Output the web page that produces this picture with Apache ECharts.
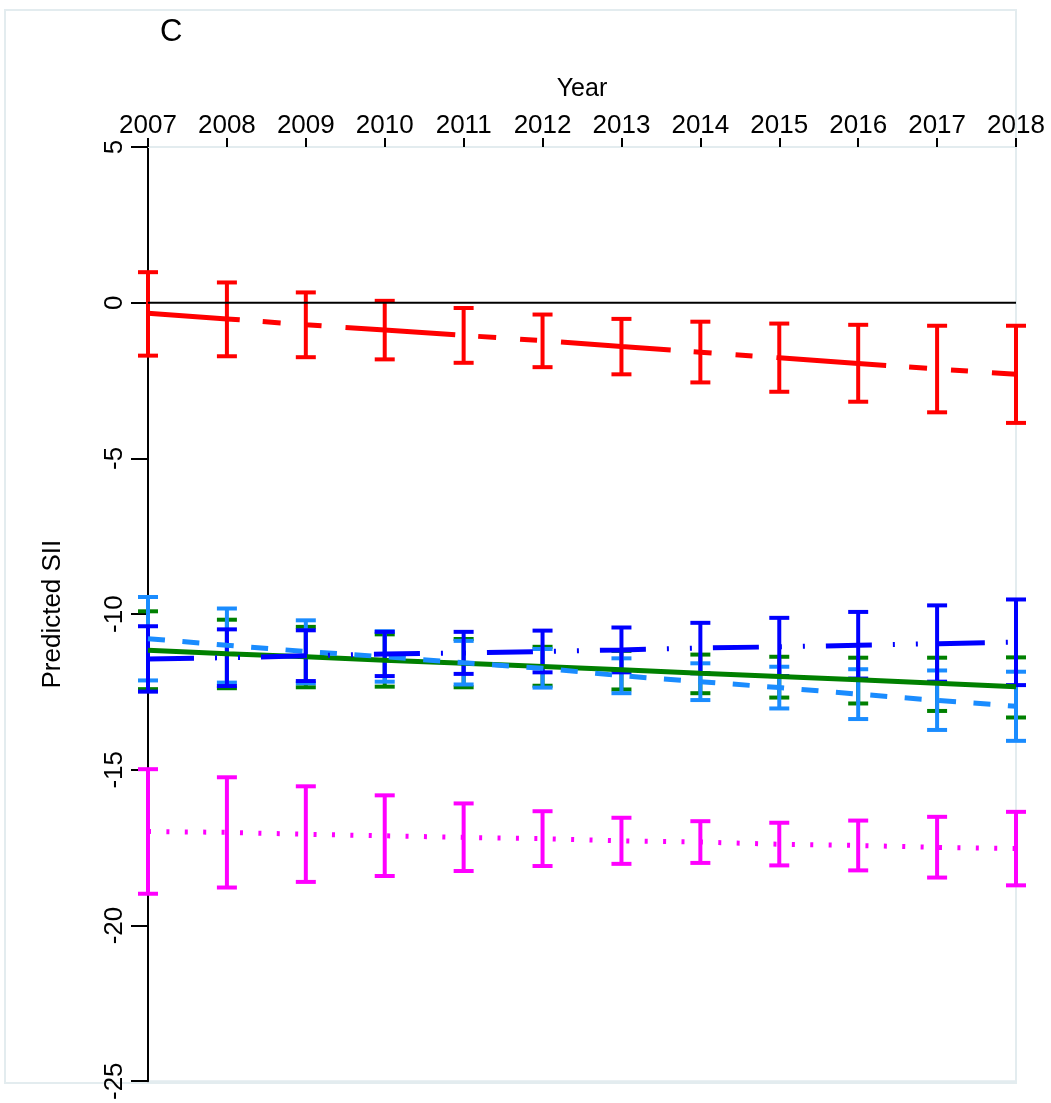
<!DOCTYPE html>
<html>
<head>
<meta charset="utf-8">
<title>Predicted SII</title>
<script src="https://cdn.jsdelivr.net/npm/echarts@6/dist/echarts.min.js"></script>
<style>
html, body { margin: 0; padding: 0; background: #fff; }
#main { width: 1051px; height: 1103px; }
</style>
</head>
<body>
<div id="main"></div>
<script>
// 数据
var years = [2007, 2008, 2009, 2010, 2011, 2012, 2013, 2014, 2015, 2016, 2017, 2018]

var redMean = [-0.34, -0.52, -0.71, -0.88, -1.05, -1.22, -1.41, -1.59, -1.77, -1.95, -2.13, -2.30]
var redLow = [-1.70, -1.72, -1.75, -1.82, -1.93, -2.07, -2.30, -2.56, -2.86, -3.18, -3.52, -3.86]
var redHigh = [0.98, 0.65, 0.33, 0.06, -0.17, -0.38, -0.52, -0.61, -0.67, -0.71, -0.74, -0.74]

var pinkMean = [-16.98, -17.01, -17.07, -17.12, -17.17, -17.21, -17.28, -17.32, -17.39, -17.43, -17.49, -17.53]
var pinkLow = [-18.98, -18.78, -18.60, -18.41, -18.25, -18.09, -18.02, -17.99, -18.07, -18.23, -18.46, -18.71]
var pinkHigh = [-14.98, -15.24, -15.53, -15.82, -16.08, -16.33, -16.54, -16.65, -16.70, -16.63, -16.51, -16.35]

var greenMean = [-11.16, -11.27, -11.37, -11.48, -11.58, -11.68, -11.79, -11.90, -12.00, -12.11, -12.22, -12.33]
var greenLow = [-12.41, -12.38, -12.35, -12.33, -12.35, -12.30, -12.42, -12.54, -12.68, -12.87, -13.11, -13.32]
var greenHigh = [-9.91, -10.18, -10.41, -10.65, -10.80, -11.05, -11.18, -11.30, -11.37, -11.40, -11.40, -11.39]

var skyMean = [-10.79, -11.00, -11.20, -11.37, -11.56, -11.74, -11.98, -12.17, -12.36, -12.57, -12.77, -12.96]
var skyLow = [-12.13, -12.20, -12.22, -12.17, -12.26, -12.36, -12.54, -12.76, -13.03, -13.37, -13.72, -14.07]
var skyHigh = [-9.45, -9.82, -10.20, -10.55, -10.86, -11.12, -11.42, -11.58, -11.69, -11.77, -11.81, -11.85]

var blueMean = [-11.44, -11.40, -11.34, -11.28, -11.25, -11.20, -11.15, -11.09, -11.05, -11.00, -10.95, -10.90]
var blueLow = [-12.49, -12.31, -12.15, -11.99, -11.92, -11.87, -11.87, -11.90, -11.99, -12.07, -12.17, -12.28]
var blueHigh = [-10.39, -10.49, -10.52, -10.57, -10.57, -10.53, -10.43, -10.28, -10.12, -9.93, -9.72, -9.53]

var zeroRef = [[2007, 0], [2018, 0]]

var yMin = -25
var yMax = 5
var yStep = 5

var FONT = '"Liberation Sans", Arial, Helvetica, sans-serif'
var FRAME = '#e3ecef'

function pairs (vals) {
  return years.map(function (y, i) { return [y, vals[i]] })
}

function bars (low, high) {
  return years.map(function (y, i) { return [y, low[i], high[i]] })
}

// 误差线（带横帽）
function errorBars (name, color, low, high) {
  return {
    name: name,
    type: 'custom',
    data: bars(low, high),
    silent: true,
    renderItem: function (params, api) {
      var x = api.value(0)
      var lo = api.coord([x, api.value(1)])
      var hi = api.coord([x, api.value(2)])
      var half = 10
      var style = { stroke: color, lineWidth: 4, lineCap: 'butt' }
      return {
        type: 'group',
        children: [
          { type: 'line', shape: { x1: lo[0], y1: lo[1], x2: hi[0], y2: hi[1] }, style: style },
          { type: 'line', shape: { x1: hi[0] - half, y1: hi[1], x2: hi[0] + half, y2: hi[1] }, style: style },
          { type: 'line', shape: { x1: lo[0] - half, y1: lo[1], x2: lo[0] + half, y2: lo[1] }, style: style }
        ]
      }
    }
  }
}

function meanLine (name, color, data, dash, offset, width) {
  return {
    name: name,
    type: 'line',
    data: data,
    showSymbol: false,
    silent: true,
    lineStyle: { color: color, width: width || 5, type: dash, dashOffset: offset || 0, cap: 'butt' }
  }
}

var myChart = echarts.init(document.getElementById('main'))
var option = {
  animation: false,
  backgroundColor: '#fff',
  title: {
    text: 'C',
    left: 155,
    top: 12,
    textStyle: { fontFamily: FONT, fontSize: 31, fontWeight: 'normal', color: '#000' }
  },
  graphic: [
    {
      type: 'rect',
      shape: { x: 5, y: 10, width: 1011, height: 1073 },
      style: { fill: 'none', stroke: FRAME, lineWidth: 2 },
      z: -1
    }
  ],
  grid: {
    left: 148,
    right: 35,
    top: 147,
    bottom: 20,
    show: true,
    borderColor: FRAME,
    borderWidth: 2
  },
  xAxis: {
    type: 'value',
    position: 'top',
    min: 2007,
    max: 2018,
    interval: 1,
    name: 'Year',
    nameLocation: 'middle',
    nameGap: 45,
    nameTextStyle: { fontFamily: FONT, fontSize: 25, color: '#000' },
    axisLine: { show: true, onZero: false, lineStyle: { color: FRAME, width: 2 } },
    axisTick: { show: true, length: 9, lineStyle: { color: '#000', width: 2 } },
    axisLabel: {
      fontFamily: FONT,
      fontSize: 26,
      color: '#000',
      margin: 8,
      formatter: function (v) { return String(v) }
    },
    splitLine: { show: false }
  },
  yAxis: {
    type: 'value',
    min: yMin,
    max: yMax,
    interval: yStep,
    name: 'Predicted SII',
    nameLocation: 'middle',
    nameRotate: 90,
    nameGap: 82,
    nameTextStyle: { fontFamily: FONT, fontSize: 26, color: '#000' },
    axisLine: { show: true, onZero: false, lineStyle: { color: '#000', width: 2 } },
    axisTick: { show: true, length: 17, lineStyle: { color: '#000', width: 2 } },
    axisLabel: { fontFamily: FONT, fontSize: 26, color: '#000', rotate: 90, margin: 20 },
    splitLine: { show: false }
  },
  series: [
    meanLine('zero', '#000', zeroRef, 'solid', 0, 2),
    errorBars('redCI', '#ff0000', redLow, redHigh),
    meanLine('red', '#ff0000', pairs(redMean), [110, 23, 18, 24, 17, 24], 18),
    errorBars('pinkCI', '#ff00ff', pinkLow, pinkHigh),
    meanLine('pink', '#ff00ff', pairs(pinkMean), [3, 15.4], 0),
    meanLine('green', '#008000', pairs(greenMean), 'solid', 0),
    errorBars('greenCI', '#008000', greenLow, greenHigh),
    meanLine('sky', '#1a8cff', pairs(skyMean), [17, 17.5], 0),
    errorBars('skyCI', '#1a8cff', skyLow, skyHigh),
    meanLine('blue', '#0000ff', pairs(blueMean), [46, 21, 2, 21, 2, 21], 0),
    errorBars('blueCI', '#0000ff', blueLow, blueHigh)
  ]
}
myChart.setOption(option)
</script>
</body>
</html>
